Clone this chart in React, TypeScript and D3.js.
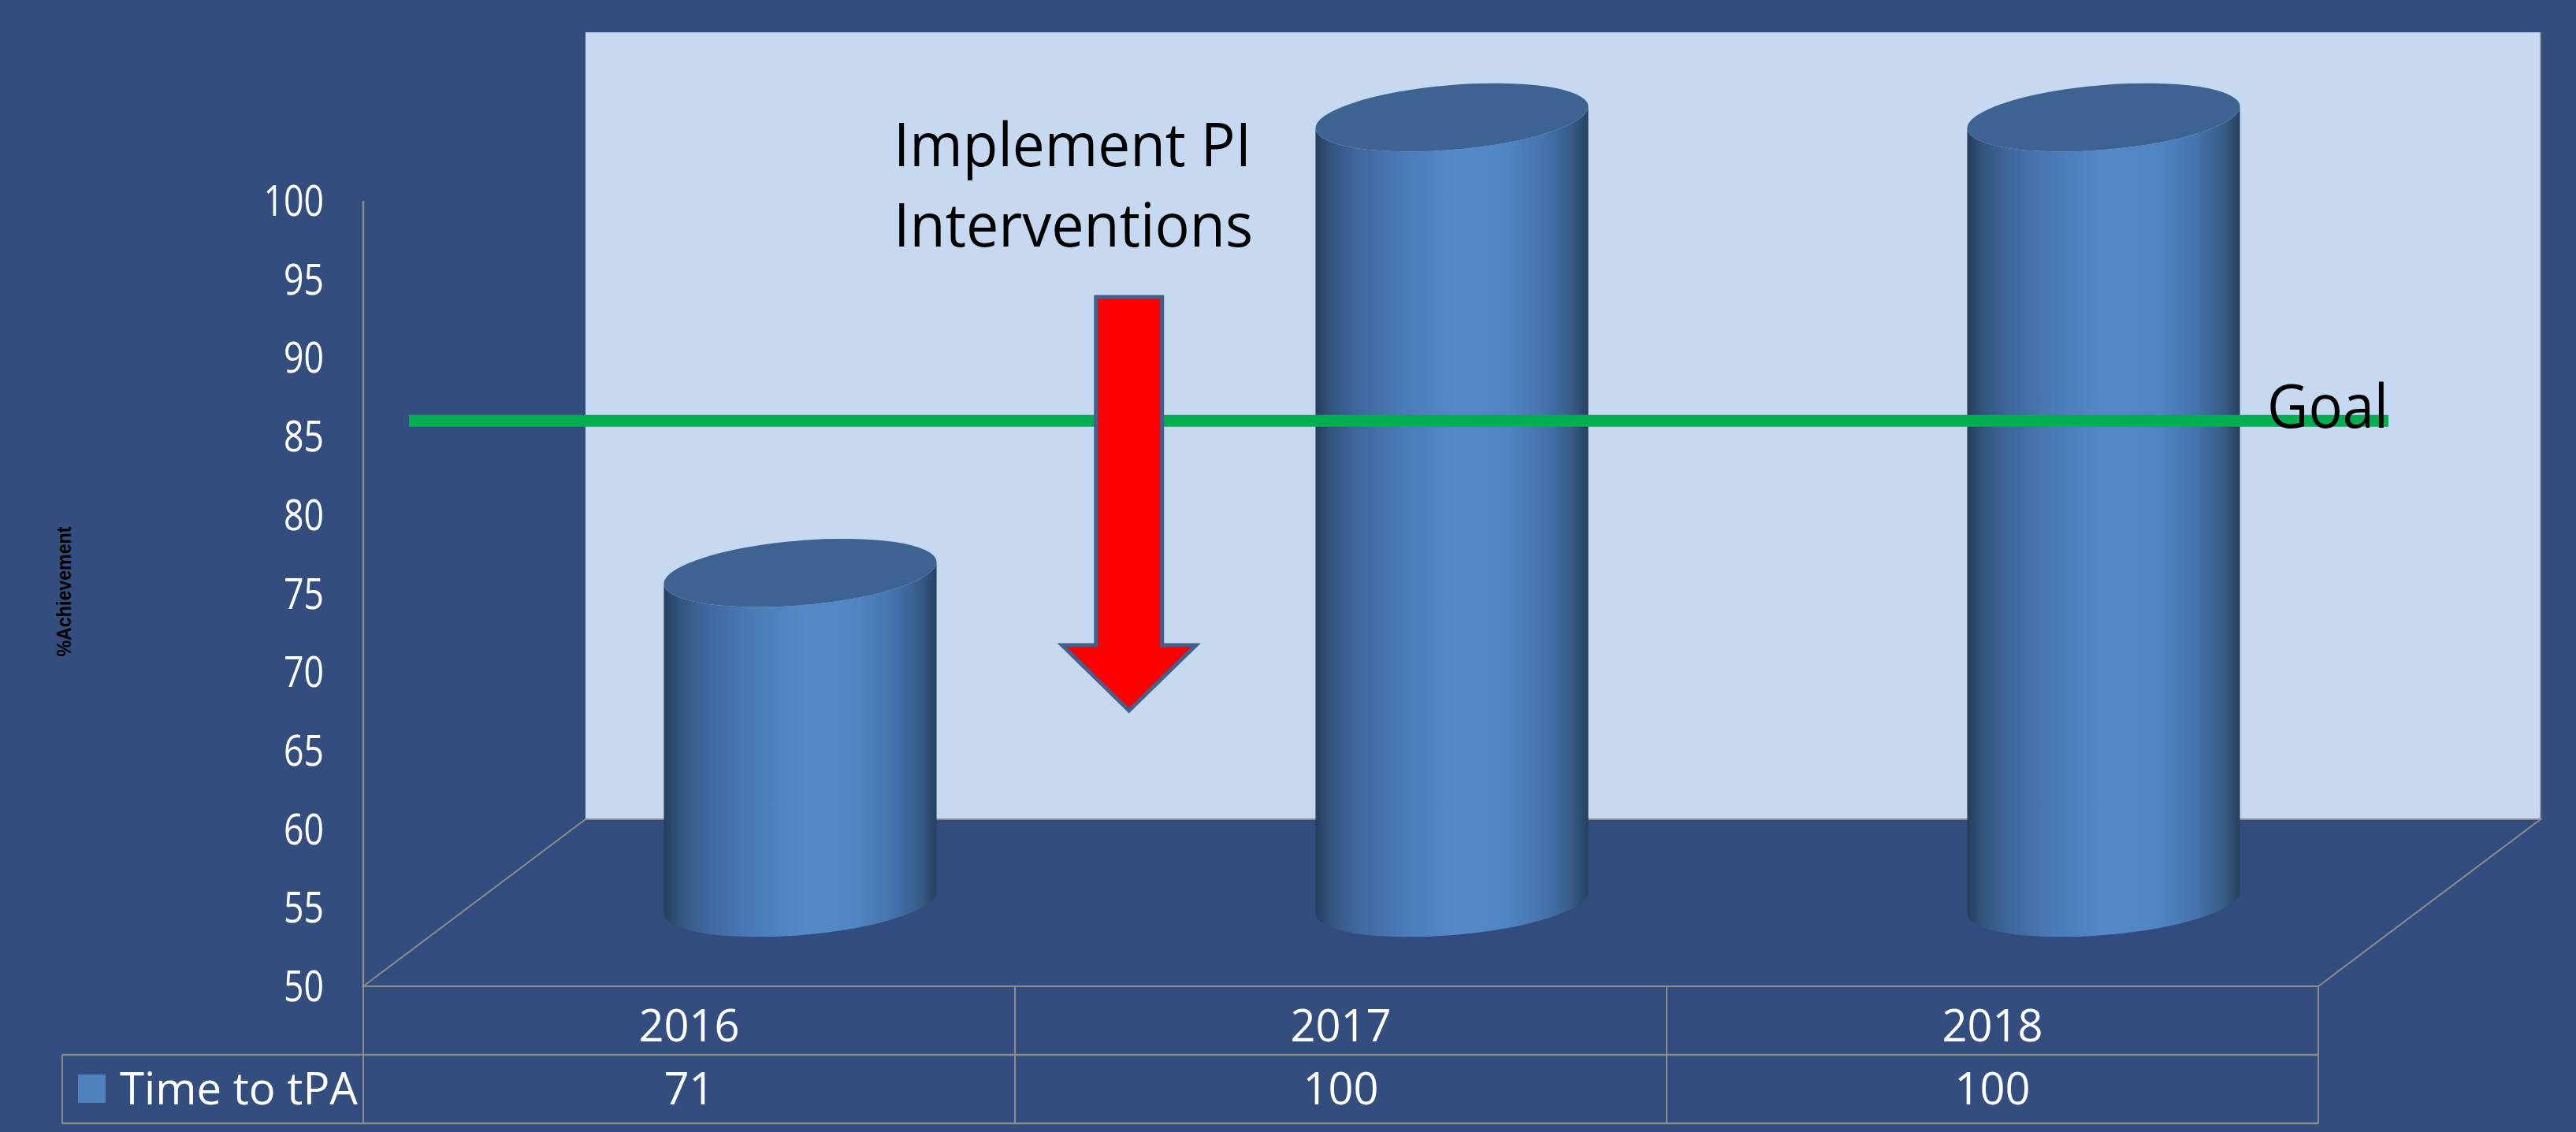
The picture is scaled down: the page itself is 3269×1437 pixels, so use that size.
import React from 'react';
import * as d3 from 'd3';

const categories = ['2016', '2017', '2018'];
const seriesName = 'Time to tPA';
const values = [71, 100, 100];
const yTicks = [50, 55, 60, 65, 70, 75, 80, 85, 90, 95, 100];
const goalValue = 86;
const goalLabel = 'Goal';
const annotationLines = ['Implement PI', 'Interventions'];
const yAxisTitle = '%Achievement';

const W = 3269;
const H = 1437;
const FONT = '"Open Sans", "Noto Sans", sans-serif';

export default function App() {
  const plotLeft = 461;
  const plotRight = 2942;
  const plotBottom = 1252;
  const plotTop = 255;
  const depthDx = 282;
  const depthDy = -212;

  const y = d3.scaleLinear().domain([50, 100]).range([plotBottom, plotTop]);
  const x = d3.scaleBand<string>().domain(categories).range([plotLeft, plotRight]).padding(0);
  const bw = x.bandwidth();

  const rx = bw * 0.21;
  const ry = 41;
  const tilt = -4.8;
  const tr = (tilt * Math.PI) / 180;
  const ex = rx * Math.cos(tr);
  const ey = rx * Math.sin(tr);

  const backLeft = plotLeft + depthDx;
  const backRight = plotRight + depthDx;
  const backBottom = plotBottom + depthDy;
  const wallTop = 41;

  const tableRow1 = plotBottom + 87;
  const tableRow2 = tableRow1 + 87;
  const legendLeft = 79;

  const gridColor = '#8C8C8C';

  const cyl = categories.map((c, i) => {
    const cx = (x(c) as number) + bw / 2 + depthDx * 0.5;
    const cyB = y(50) + depthDy * 0.5;
    const cyT = y(values[i]) + depthDy * 0.5;
    const body = [
      `M${cx - ex},${cyT - ey}`,
      `L${cx - ex},${cyB - ey}`,
      `A${rx},${ry} ${tilt} 0 0 ${cx + ex},${cyB + ey}`,
      `L${cx + ex},${cyT + ey}`,
      `A${rx},${ry} ${tilt} 0 1 ${cx - ex},${cyT - ey}`,
      'Z',
    ].join(' ');
    return { c, cx, cyT, body };
  });

  const goalY = y(goalValue);

  // arrow annotation placed between 2016 and 2017
  const arrowCx = (x('2017') as number) + bw * 0.175;
  const shaftHalf = 42;
  const headHalf = 85;
  const arrowTop = 377;
  const shaftEnd = 819;
  const arrowTip = 902;
  const arrowPath = [
    `M${arrowCx - shaftHalf},${arrowTop}`,
    `L${arrowCx + shaftHalf},${arrowTop}`,
    `L${arrowCx + shaftHalf},${shaftEnd}`,
    `L${arrowCx + headHalf},${shaftEnd}`,
    `L${arrowCx},${arrowTip}`,
    `L${arrowCx - headHalf},${shaftEnd}`,
    `L${arrowCx - shaftHalf},${shaftEnd}`,
    'Z',
  ].join(' ');
  const annotationLengths = [454, 456];

  return (
    <svg
      width={W}
      height={H}
      style={{ position: 'absolute', left: 0, top: 0, display: 'block' }}
      xmlns="http://www.w3.org/2000/svg"
    >
      <defs>
        <linearGradient id="cylBody" x1="0" x2="1" y1="0" y2="0">
          <stop offset="0" stopColor="#253E5F" />
          <stop offset="0.06" stopColor="#33557F" />
          <stop offset="0.15" stopColor="#3E679B" />
          <stop offset="0.32" stopColor="#4A7BB8" />
          <stop offset="0.52" stopColor="#5589C9" />
          <stop offset="0.7" stopColor="#5085C4" />
          <stop offset="0.84" stopColor="#4573AC" />
          <stop offset="0.94" stopColor="#375C88" />
          <stop offset="1" stopColor="#26405F" />
        </linearGradient>
      </defs>
      <rect x={0} y={0} width={W} height={H} fill="#334E7E" />

      {/* back wall */}
      <rect
        x={backLeft}
        y={wallTop}
        width={backRight - backLeft}
        height={backBottom - wallTop}
        fill="#C6D9F0"
      />
      <line x1={backRight} y1={wallTop} x2={backRight} y2={backBottom} stroke={gridColor} strokeWidth={1.5} />

      {/* floor */}
      <polygon
        points={`${plotLeft},${plotBottom} ${backLeft},${backBottom} ${backRight},${backBottom} ${plotRight},${plotBottom}`}
        fill="#314C7D"
        stroke={gridColor}
        strokeWidth={2}
      />

      {/* y axis */}
      <line x1={plotLeft} y1={plotTop} x2={plotLeft} y2={plotBottom} stroke={gridColor} strokeWidth={2.5} />
      {yTicks.map((t) => (
        <text
          key={t}
          x={411}
          y={y(t) + 19}
          textAnchor="end"
          fill="#FFFFFF"
          fontFamily={FONT}
          fontSize={54}
          textLength={String(t).length * 25.5}
          lengthAdjust="spacingAndGlyphs"
        >
          {t}
        </text>
      ))}
      <text
        transform={`translate(90,751) rotate(-90)`}
        textAnchor="middle"
        fill="#000000"
        fontFamily='"Liberation Sans Narrow", "Liberation Sans", sans-serif'
        fontWeight="bold"
        fontSize={25}
        textLength={165}
        lengthAdjust="spacingAndGlyphs"
      >
        {yAxisTitle}
      </text>

      {/* cylinders */}
      {cyl.map((d) => (
        <g key={d.c}>
          <path d={d.body} fill="url(#cylBody)" />
          <ellipse
            cx={d.cx}
            cy={d.cyT}
            rx={rx}
            ry={ry}
            fill="#3C6391"
            transform={`rotate(${tilt},${d.cx},${d.cyT})`}
          />
        </g>
      ))}

      {/* goal line */}
      <line x1={519} y1={goalY} x2={3031} y2={goalY} stroke="#00B050" strokeWidth={15} />
      <text x={2877} y={goalY + 9} fill="#000000" fontFamily={FONT} fontSize={76} textLength={154} lengthAdjust="spacingAndGlyphs">
        {goalLabel}
      </text>

      {/* annotation */}
      {annotationLines.map((l, i) => (
        <text
          key={l}
          x={1134}
          y={211 + i * 102}
          fill="#000000"
          fontFamily={FONT}
          fontSize={76}
          textLength={annotationLengths[i]}
          lengthAdjust="spacingAndGlyphs"
        >
          {l}
        </text>
      ))}
      <path d={arrowPath} fill="#FF0000" stroke="#41618C" strokeWidth={5} strokeLinejoin="miter" />

      {/* data table */}
      <line x1={legendLeft} y1={tableRow1} x2={plotRight} y2={tableRow1} stroke={gridColor} strokeWidth={2.5} />
      <line x1={legendLeft} y1={tableRow2} x2={plotRight} y2={tableRow2} stroke={gridColor} strokeWidth={2.5} />
      <line x1={legendLeft} y1={tableRow1} x2={legendLeft} y2={tableRow2} stroke={gridColor} strokeWidth={2} />
      {categories.map((c) => (
        <line
          key={'v' + c}
          x1={x(c) as number}
          y1={plotBottom}
          x2={x(c) as number}
          y2={tableRow2}
          stroke={gridColor}
          strokeWidth={2}
        />
      ))}
      <line x1={plotRight} y1={plotBottom} x2={plotRight} y2={tableRow2} stroke={gridColor} strokeWidth={2} />
      {categories.map((c, i) => (
        <g key={'t' + c}>
          <text
            x={(x(c) as number) + bw / 2}
            y={plotBottom + 70}
            textAnchor="middle"
            fill="#FFFFFF"
            fontFamily={FONT}
            fontSize={56}
          >
            {c}
          </text>
          <text
            x={(x(c) as number) + bw / 2}
            y={tableRow1 + 63}
            textAnchor="middle"
            fill="#FFFFFF"
            fontFamily={FONT}
            fontSize={56}
          >
            {values[i]}
          </text>
        </g>
      ))}
      <rect x={99} y={tableRow1 + 25} width={35} height={36} fill="#4F81BD" />
      <text x={152} y={tableRow1 + 63} fill="#FFFFFF" fontFamily={FONT} fontSize={56} textLength={302} lengthAdjust="spacingAndGlyphs">
        {seriesName}
      </text>
    </svg>
  );
}
